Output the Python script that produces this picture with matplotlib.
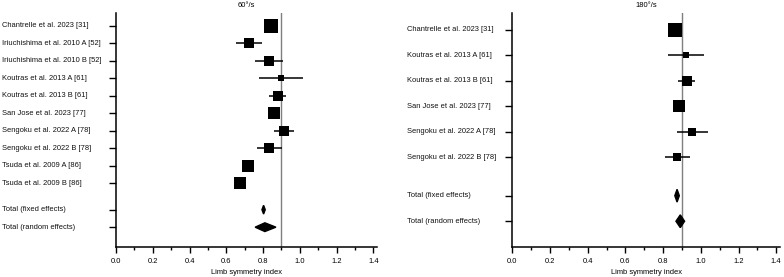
import matplotlib
matplotlib.use("Agg")
import matplotlib.pyplot as plt
from matplotlib.patches import Polygon
from matplotlib.transforms import blended_transform_factory
import numpy as np

plt.rcParams['font.family'] = ['Liberation Sans', 'DejaVu Sans']

# ---------------- data: 60°/s ----------------
title_60 = "60°/s"
studies_60 = ["Chantrelle et al. 2023 [31]", "Iriuchishima et al. 2010 A [52]",
              "Iriuchishima et al. 2010 B [52]", "Koutras et al. 2013 A [61]",
              "Koutras et al. 2013 B [61]", "San Jose et al. 2023 [77]",
              "Sengoku et al. 2022 A [78]", "Sengoku et al. 2022 B [78]",
              "Tsuda et al. 2009 A [86]", "Tsuda et al. 2009 B [86]"]
est_60 = [0.843, 0.725, 0.830, 0.897, 0.880, 0.859, 0.914, 0.835, 0.719, 0.677]
lo_60 = [0.825, 0.654, 0.754, 0.776, 0.835, 0.840, 0.857, 0.767, 0.700, 0.660]
hi_60 = [0.862, 0.797, 0.908, 1.017, 0.927, 0.878, 0.970, 0.903, 0.738, 0.694]
w_60 = [13.4, 7.5, 7.5, 2.1, 8.3, 12.2, 9.1, 8.0, 12.2, 12.2]
fixed_60 = (0.803, 0.794, 0.812)
random_60 = (0.810, 0.757, 0.870)

# ---------------- data: 180°/s ----------------
title_180 = "180°/s"
studies_180 = ["Chantrelle et al. 2023 [31]", "Koutras et al. 2013 A [61]",
               "Koutras et al. 2013 B [61]", "San Jose et al. 2023 [77]",
               "Sengoku et al. 2022 A [78]", "Sengoku et al. 2022 B [78]"]
est_180 = [0.861, 0.922, 0.925, 0.882, 0.953, 0.874]
lo_180 = [0.845, 0.825, 0.879, 0.866, 0.874, 0.809]
hi_180 = [0.877, 1.018, 0.971, 0.898, 1.037, 0.940]
w_180 = [33.3, 5.5, 17.0, 27.0, 9.5, 9.5]
fixed_180 = (0.874, 0.862, 0.886)
random_180 = (0.891, 0.868, 0.914)

total_labels = ["Total (fixed effects)", "Total (random effects)"]
ref_value = 0.9
xlabel = "Limb symmetry index"
xticks = [0.0, 0.2, 0.4, 0.6, 0.8, 1.0, 1.2, 1.4]

W, H = 784, 277
fig = plt.figure(figsize=(W / 100, H / 100), dpi=100)

FS = 5.4
MAX_SIDE_PX = 13.3


def panel(rect, label_x, title, studies, est, lo, hi, w, fixed, rand, ylim):
    ax = fig.add_axes(rect)
    n = len(studies)
    ys = list(range(n))
    y_fixed = n + 0.5
    y_rand = n + 1.5
    ax.set_xlim(0, 1.42)
    ax.set_ylim(*ylim)
    ax.axvline(ref_value, color='#7f7f7f', lw=1.0, zorder=1)
    wmax = max(w)
    for y, e, l, h, wt in zip(ys, est, lo, hi, w):
        ax.plot([l, h], [y, y], color='black', lw=1.1, zorder=2, solid_capstyle='butt')
        side_pt = MAX_SIDE_PX * np.sqrt(wt / wmax) * 0.72
        ax.plot([e], [y], marker='s', ms=side_pt, color='black', mec='black',
                mew=0, zorder=3, linestyle='none')
    for (c, l, h), y in ((fixed, y_fixed), (rand, y_rand)):
        ax.add_patch(Polygon([[l, y], [c, y - 0.25], [h, y], [c, y + 0.25]],
                             closed=True, color='black', zorder=3))
    ax.set_yticks(ys + [y_fixed, y_rand])
    ax.set_yticklabels([])
    tr = blended_transform_factory(fig.transFigure, ax.transData)
    for y, s in zip(ys + [y_fixed, y_rand], studies + total_labels):
        ax.text(label_x, y, s, transform=tr, ha='left', va='center', fontsize=FS,
                color='#111111')
    ax.set_xticks(xticks)
    ax.set_xticklabels([f"{t:.1f}" for t in xticks], fontsize=FS)
    ax.set_xticks(np.arange(0.1, 1.41, 0.2), minor=True)
    ax.tick_params(axis='x', which='major', direction='out', length=4.5, width=1.0, pad=3.5)
    ax.tick_params(axis='x', which='minor', direction='out', length=2.5, width=1.0)
    ax.tick_params(axis='y', which='major', direction='out', length=5, width=1.0)
    ax.set_xlabel(xlabel, fontsize=FS, labelpad=2.5)
    ax.set_title(title, fontsize=FS, pad=4)
    for s in ('top', 'right'):
        ax.spines[s].set_visible(False)
    for s in ('left', 'bottom'):
        ax.spines[s].set_linewidth(1.1)
    return ax


top = 1 - 13 / H
bot = 1 - 247.3 / H
panel([116 / W, bot, (377 - 116) / W, top - bot], 2 / W, title_60,
      studies_60, est_60, lo_60, hi_60, w_60, fixed_60, random_60, (12.65, -0.74))
panel([512.3 / W, bot, (780 - 512.3) / W, top - bot], 407 / W, title_180,
      studies_180, est_180, lo_180, hi_180, w_180, fixed_180, random_180, (8.52, -0.65))

fig.savefig("out.png", dpi=100)
